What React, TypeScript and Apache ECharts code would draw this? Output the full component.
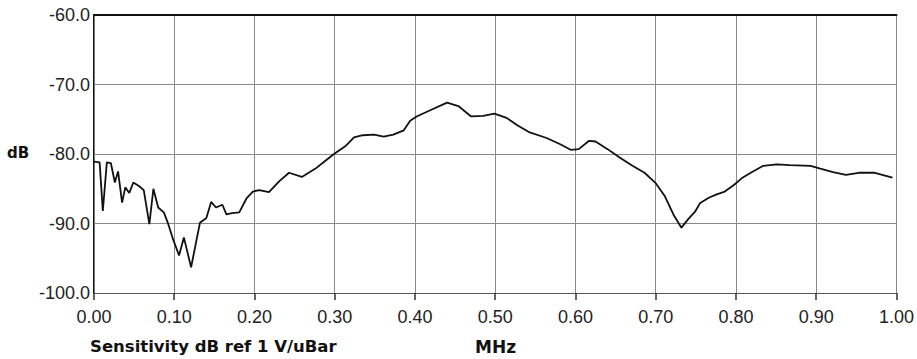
import React, { useEffect, useRef } from "react";
import * as echarts from "echarts";

const freqMHz: number[] = [
  0.0, 0.007, 0.011, 0.016, 0.021, 0.026, 0.03, 0.035, 0.039, 0.044, 0.049, 0.056, 0.062, 0.069,
  0.074, 0.08, 0.087, 0.092, 0.098, 0.106, 0.112, 0.121, 0.132, 0.14, 0.146, 0.152, 0.16, 0.165,
  0.172, 0.181, 0.19, 0.198, 0.206, 0.218, 0.231, 0.243, 0.259, 0.276, 0.288, 0.299, 0.314, 0.324,
  0.335, 0.349, 0.361, 0.373, 0.386, 0.394, 0.402, 0.419, 0.44, 0.454, 0.47, 0.485, 0.499, 0.514,
  0.528, 0.543, 0.564, 0.581, 0.594, 0.604, 0.617, 0.625, 0.64, 0.655, 0.671, 0.686, 0.7, 0.711,
  0.722, 0.732, 0.741, 0.749, 0.755, 0.766, 0.776, 0.786, 0.797, 0.807, 0.82, 0.834, 0.851, 0.867,
  0.893, 0.905, 0.921, 0.937, 0.953, 0.973, 0.995,
];

const sensitivityDb: number[] = [
  -81.1, -81.2, -88.2, -81.2, -81.3, -84.1, -82.5, -87.0, -84.8, -85.6, -84.1, -84.6, -85.2, -90.1,
  -85.0, -87.7, -88.4, -89.9, -92.1, -94.6, -92.0, -96.3, -89.9, -89.2, -86.9, -87.7, -87.3, -88.7,
  -88.5, -88.4, -86.4, -85.4, -85.2, -85.5, -83.9, -82.7, -83.3, -82.1, -81.0, -80.0, -78.8, -77.6,
  -77.3, -77.2, -77.5, -77.2, -76.6, -75.2, -74.6, -73.7, -72.6, -73.1, -74.6, -74.5, -74.2, -74.8,
  -75.9, -76.9, -77.7, -78.6, -79.4, -79.3, -78.1, -78.2, -79.3, -80.5, -81.7, -82.7, -84.2, -86.0,
  -88.7, -90.6, -89.3, -88.3, -87.1, -86.3, -85.8, -85.4, -84.5, -83.5, -82.6, -81.7, -81.5, -81.6,
  -81.7, -82.1, -82.6, -83.0, -82.7, -82.7, -83.4,
];

const xTicks = { min: 0, max: 1, interval: 0.1 };
const yTicks = { min: -100, max: -60, interval: 10 };

const yAxisTitle = "dB";
const xAxisTitleLeft = "Sensitivity dB ref 1 V/uBar";
const xAxisTitleRight = "MHz";

export default function App() {
  const ref = useRef<HTMLDivElement>(null);

  useEffect(() => {
    document.body.style.margin = "0";
    if (!ref.current) return;
    const chart = echarts.init(ref.current, undefined, { renderer: "svg" });
    const labelFont = "'Liberation Sans', Arial, sans-serif";
    const boldFont = "'DejaVu Sans', Verdana, sans-serif";
    chart.setOption({
      animation: false,
      backgroundColor: "#ffffff",
      grid: { left: 94, right: 18, top: 15, bottom: 66, containLabel: false },
      xAxis: [
        {
          type: "value",
          min: xTicks.min,
          max: xTicks.max,
          interval: xTicks.interval,
          position: "bottom",
          axisLine: { show: true, lineStyle: { color: "#555", width: 1.2 } },
          axisTick: { show: true, length: 7, inside: false, lineStyle: { color: "#333", width: 1.5 } },
          axisLabel: {
            margin: 15,
            color: "#222",
            fontSize: 18,
            fontFamily: labelFont,
            formatter: (v: number) => v.toFixed(2),
          },
          splitLine: { show: true, lineStyle: { color: "#8a8a8a", width: 1 } },
        },
        {
          type: "value",
          min: xTicks.min,
          max: xTicks.max,
          interval: xTicks.interval,
          position: "top",
          axisLine: { show: true, lineStyle: { color: "#111", width: 2 } },
          axisTick: { show: false },
          axisLabel: { show: false },
          splitLine: { show: false },
        },
      ],
      yAxis: [
        {
          type: "value",
          min: yTicks.min,
          max: yTicks.max,
          interval: yTicks.interval,
          position: "left",
          axisLine: { show: true, lineStyle: { color: "#111", width: 2 } },
          axisTick: { show: false },
          axisLabel: {
            margin: 4,
            color: "#222",
            fontSize: 18,
            fontFamily: labelFont,
            formatter: (v: number) => v.toFixed(1),
          },
          splitLine: { show: true, lineStyle: { color: "#8a8a8a", width: 1 } },
        },
        {
          type: "value",
          min: yTicks.min,
          max: yTicks.max,
          interval: yTicks.interval,
          position: "right",
          axisLine: { show: true, lineStyle: { color: "#777", width: 1 } },
          axisTick: { show: false },
          axisLabel: { show: false },
          splitLine: { show: false },
        },
      ],
      series: [
        {
          type: "line",
          xAxisIndex: 0,
          yAxisIndex: 0,
          data: freqMHz.map((f, i) => [f, sensitivityDb[i]]),
          showSymbol: false,
          symbol: "none",
          lineStyle: { color: "#111", width: 1.8 },
        },
      ],
      graphic: [
        {
          type: "text",
          left: 7,
          top: 145,
          style: { text: yAxisTitle, fill: "#111", font: `bold 15px ${boldFont}` },
        },
        {
          type: "text",
          left: 90,
          top: 338,
          style: { text: xAxisTitleLeft, fill: "#111", font: `bold 16.5px ${boldFont}` },
        },
        {
          type: "text",
          left: 475,
          top: 338,
          style: { text: xAxisTitleRight, fill: "#111", font: `bold 17px ${boldFont}` },
        },
      ],
    });
    return () => chart.dispose();
  }, []);

  return <div ref={ref} style={{ width: 917, height: 359 }} />;
}
